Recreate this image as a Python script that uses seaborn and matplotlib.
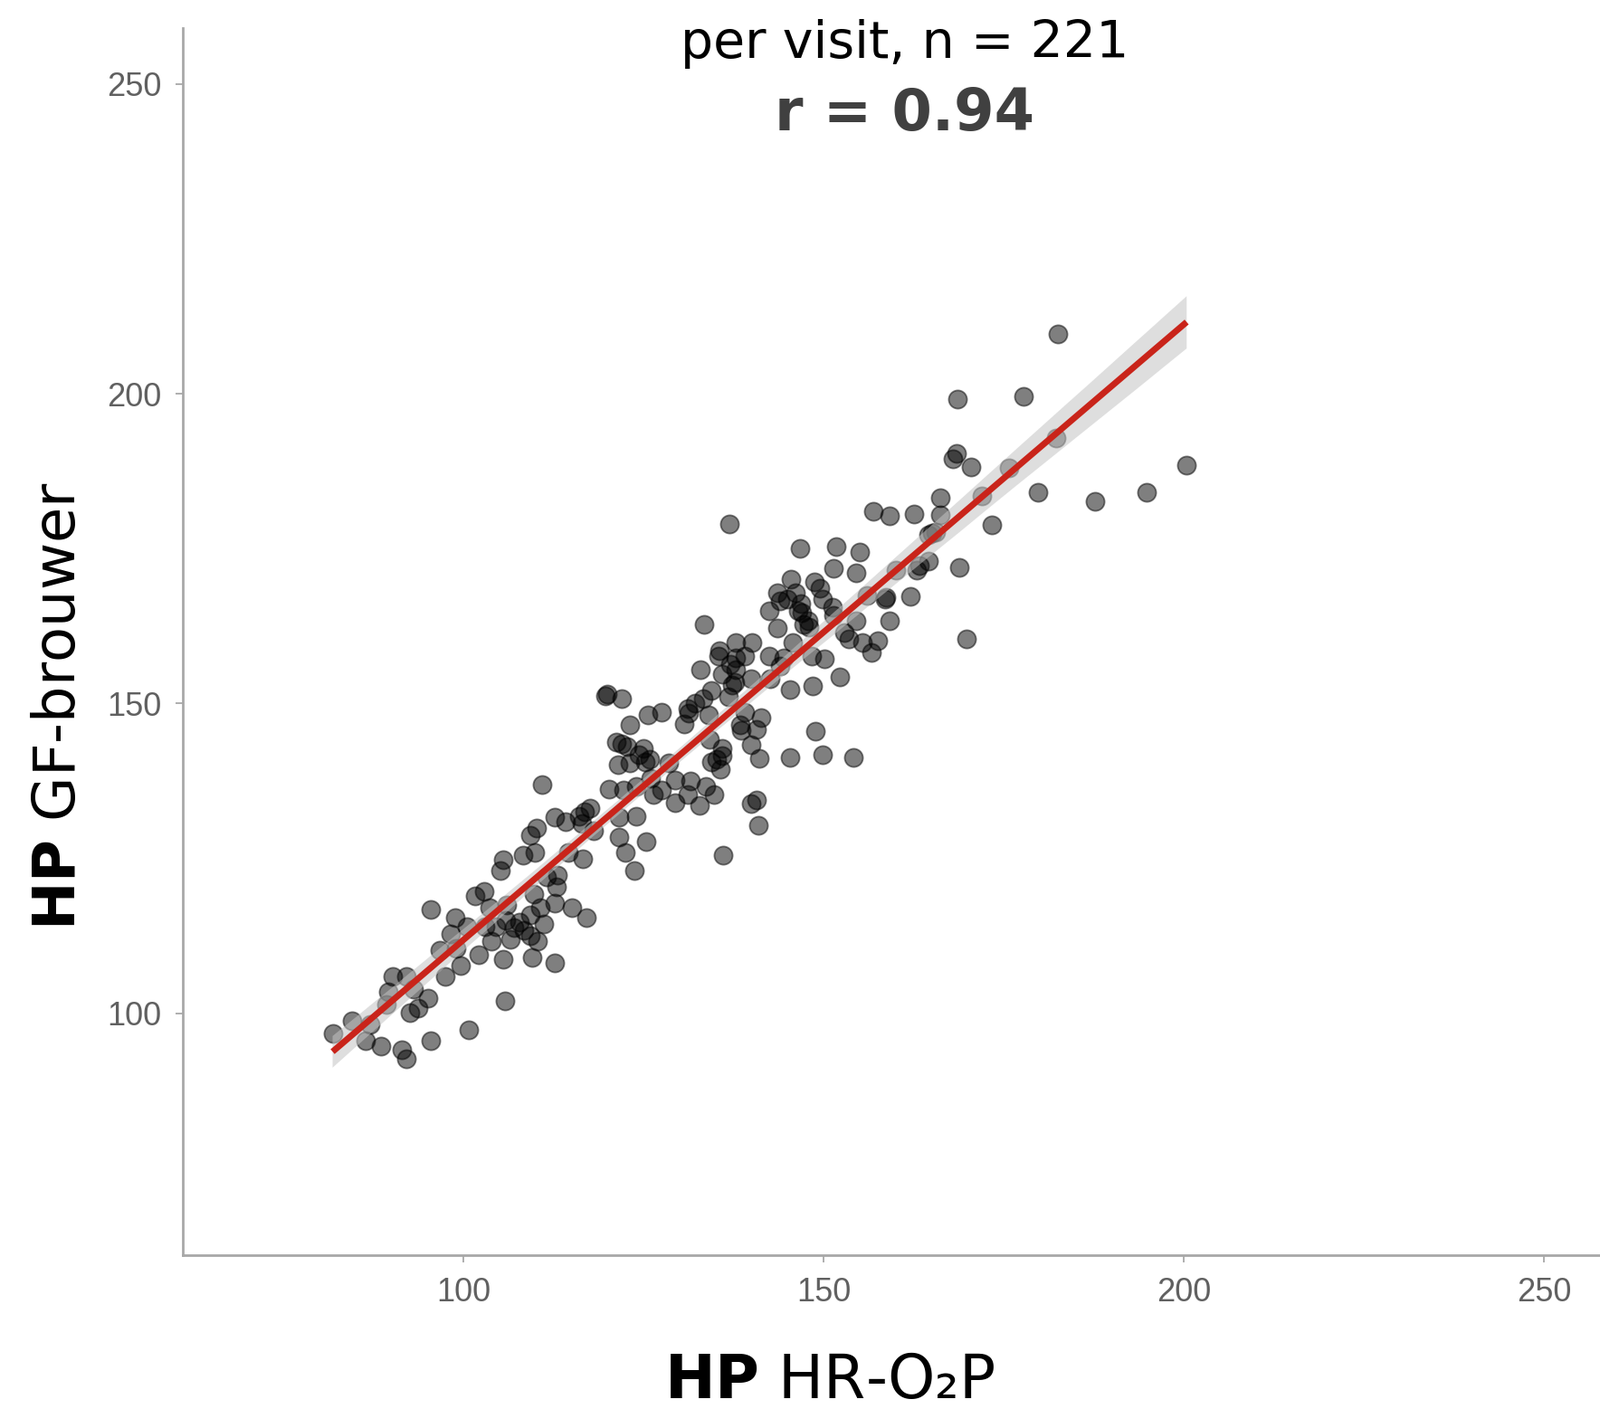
import matplotlib
matplotlib.use("Agg")
import matplotlib.pyplot as plt
import pandas as pd
import seaborn as sns
from matplotlib.collections import PolyCollection

# HP per visit: HR-O2P (x) vs GF-brouwer (y)
hp_hro2p = [
    # lower part
    81.8, 84.5, 86.4, 87.0, 88.5, 89.3, 89.5, 90.2, 91.4, 92.1, 92.1, 92.5, 93.0,
    93.7, 95.0, 95.4, 96.7, 97.5, 99.6, 100.7, 102.1, 105.5, 105.7, 109.5, 112.6,
    # 110-126
    95.4, 98.2, 98.8, 100.5, 101.6, 102.8, 103.6, 103.8, 104.5, 105.1, 105.5,
    105.9, 106.5, 107.0, 107.8, 108.2, 108.4, 109.3, 109.3, 109.7, 109.9, 110.3,
    110.7, 111.2, 112.7, 112.9, 113.0, 115.1, 116.6, 117.0, 122.5, 123.7, 136.0,
    # 126-142
    109.3, 110.1, 110.9, 112.6, 114.1, 116.0, 116.4, 116.8, 117.6, 120.2, 121.4,
    121.6, 121.6, 122.2, 123.1, 123.9, 123.9, 124.3, 125.2, 125.4, 125.8, 126.4,
    127.5, 129.4, 129.4, 131.1, 131.5, 132.7, 133.6, 134.4, 134.8, 135.2, 135.7,
    135.9, 139.9, 140.7, 140.9, 141.1, 145.3, 149.9, 154.1,
    # 142-158
    119.7, 119.9, 121.2, 122.0, 122.0, 122.7, 123.1, 125.0, 125.6, 127.5, 130.6,
    131.1, 131.3, 132.1, 132.9, 133.2, 134.0, 134.2, 134.4, 135.4, 135.9, 135.9,
    136.8, 137.0, 137.3, 137.6, 137.8, 137.8, 138.4, 138.6, 139.0, 139.0, 139.9,
    139.9, 140.7, 141.3, 142.4, 144.5, 145.3, 148.3, 148.5, 148.9, 150.1, 152.2,
    156.6,
    # 158-176
    133.4, 135.5, 137.8, 140.1, 142.4, 143.6, 143.6, 144.0, 145.0, 145.5, 145.7,
    146.1, 146.5, 146.8, 147.0, 147.2, 147.8, 148.0, 148.7, 149.5, 149.9, 151.2,
    151.4, 151.4, 152.9, 153.5, 154.5, 154.5, 155.0, 155.4, 157.5, 158.5, 158.7,
    159.1, 162.1, 162.9, 163.3, 164.6, 168.8, 169.8,
    # upper part
    136.9, 146.7, 151.7, 156.9, 159.1, 162.5, 164.5, 165.0, 165.6, 166.2, 166.2,
    168.0, 168.4, 168.6, 170.4, 173.4, 175.7, 177.8, 179.7, 182.3, 182.5, 187.7,
    194.9, 200.4,
    # partly hidden by the fit line
    99.0, 103.0, 106.0, 111.5, 114.5, 118.0, 126.0, 128.5, 142.5, 144.0, 156.0,
    160.0, 172.0,
]
hp_gf_brouwer = [
    96.8, 98.8, 95.6, 98.3, 94.8, 101.5, 103.5, 106.0, 94.1, 92.7, 106.0, 100.2, 104.0,
    100.9, 102.4, 95.6, 110.2, 106.0, 107.7, 97.3, 109.5, 108.7, 102.1, 109.0, 108.2,
    116.8, 112.9, 115.5, 114.0, 119.0, 119.7, 117.0, 111.6, 114.0, 123.1, 124.8,
    115.0, 112.0, 113.8, 114.8, 125.5, 113.4, 112.6, 115.9, 119.2, 126.0, 111.6,
    117.0, 114.4, 117.8, 120.4, 122.4, 117.0, 125.0, 115.4, 126.0, 123.1, 125.5,
    128.8, 129.9, 136.9, 131.6, 130.9, 131.8, 130.6, 132.6, 133.1, 136.2, 140.1,
    128.4, 131.6, 136.0, 140.4, 131.8, 136.7, 141.8, 140.6, 127.7, 141.0, 135.3,
    136.0, 134.0, 137.7, 135.3, 137.5, 133.6, 136.7, 140.6, 135.3, 141.0, 139.4,
    141.6, 133.8, 134.5, 130.4, 141.1, 141.3, 141.8, 141.3,
    151.3, 151.5, 143.8, 143.5, 150.8, 143.1, 146.5, 142.8, 148.2, 148.6, 146.7,
    149.2, 148.5, 150.1, 155.5, 150.8, 148.2, 144.3, 152.1, 157.7, 142.8, 154.8,
    151.1, 156.3, 153.0, 153.5, 155.5, 157.4, 146.5, 145.7, 148.6, 157.7, 143.3,
    154.0, 145.9, 147.7, 157.7, 157.4, 152.3, 157.7, 152.8, 145.5, 157.2, 154.3,
    158.2,
    162.8, 158.6, 159.9, 159.9, 164.9, 162.2, 167.9, 166.5, 166.8, 170.1, 159.9,
    167.9, 165.0, 166.2, 164.7, 162.8, 163.3, 162.3, 169.6, 168.6, 166.9, 165.5,
    164.3, 171.8, 161.5, 160.5, 163.4, 171.1, 174.5, 159.9, 160.1, 166.9, 167.1,
    163.4, 167.3, 171.5, 172.3, 173.0, 172.0, 160.5,
    179.0, 175.0, 175.4, 181.0, 180.3, 180.6, 177.2, 177.5, 177.7, 180.5, 183.2,
    189.5, 190.3, 199.2, 188.2, 178.8, 188.0, 199.6, 184.1, 192.8, 209.7, 182.7,
    184.1, 188.5,
    110.5, 114.0, 117.5, 122.0, 126.0, 129.5, 138.0, 140.5, 154.0, 156.0, 167.5,
    171.5, 183.5,
]

tick_values = [100, 150, 200, 250]
subtitle = "per visit, n = 221"
r_label = "r = 0.94"


def main():
    df = pd.DataFrame({"hro2p": hp_hro2p, "gf": hp_gf_brouwer})

    sns.set_style("ticks")
    plt.rcParams["font.family"] = ["DejaVu Sans"]

    fig = plt.figure(figsize=(17.68, 15.57), dpi=100)
    ax = fig.add_axes([202 / 1768, 1 - 1387 / 1557, 1 - 202 / 1768, (1387 - 31) / 1557])

    sns.regplot(
        data=df, x="hro2p", y="gf", ax=ax, seed=3,
        scatter_kws={"s": 210, "color": "black", "alpha": 0.5,
                     "edgecolor": "black", "linewidths": 1.3},
        line_kws={"color": "#C9241A", "lw": 5, "solid_capstyle": "butt"},
    )
    # grey confidence band as in the original
    for coll in ax.collections:
        if isinstance(coll, PolyCollection):
            coll.set_facecolor("#c4c4c4")
            coll.set_alpha(0.55)
            coll.set_edgecolor("none")

    ax.set_xlim(61, 257.8)
    ax.set_ylim(61, 259)
    ax.set_xticks(tick_values)
    ax.set_yticks(tick_values)

    for side in ("top", "right"):
        ax.spines[side].set_visible(False)
    for side in ("left", "bottom"):
        ax.spines[side].set_color("#a8a8a8")
        ax.spines[side].set_linewidth(2.0)
    ax.tick_params(axis="both", length=6, width=1.3, color="#a8a8a8",
                   labelcolor="#606060", labelsize=26)
    ax.tick_params(axis="x", pad=11)
    ax.tick_params(axis="y", pad=11)
    for lab in ax.get_xticklabels() + ax.get_yticklabels():
        lab.set_fontfamily("Liberation Sans")

    ax.set_xlabel(r"$\mathbf{HP}$ HR-O₂P", fontsize=48, color="black")
    ax.set_ylabel(r"$\mathbf{HP}$ GF-brouwer", fontsize=46, color="black")
    ax.xaxis.set_label_coords(0.4566, -0.078)
    ax.yaxis.set_label_coords(-0.068, 0.4476)

    fig.text(1000 / 1768, 1 - 64 / 1557, subtitle, ha="center", va="baseline",
             fontsize=41, color="black")
    fig.text(1000 / 1768, 1 - 144 / 1557, r_label, ha="center", va="baseline",
             fontsize=46, fontweight="bold", color="#404040")

    fig.savefig("out.png", dpi=100)


if __name__ == "__main__":
    main()
